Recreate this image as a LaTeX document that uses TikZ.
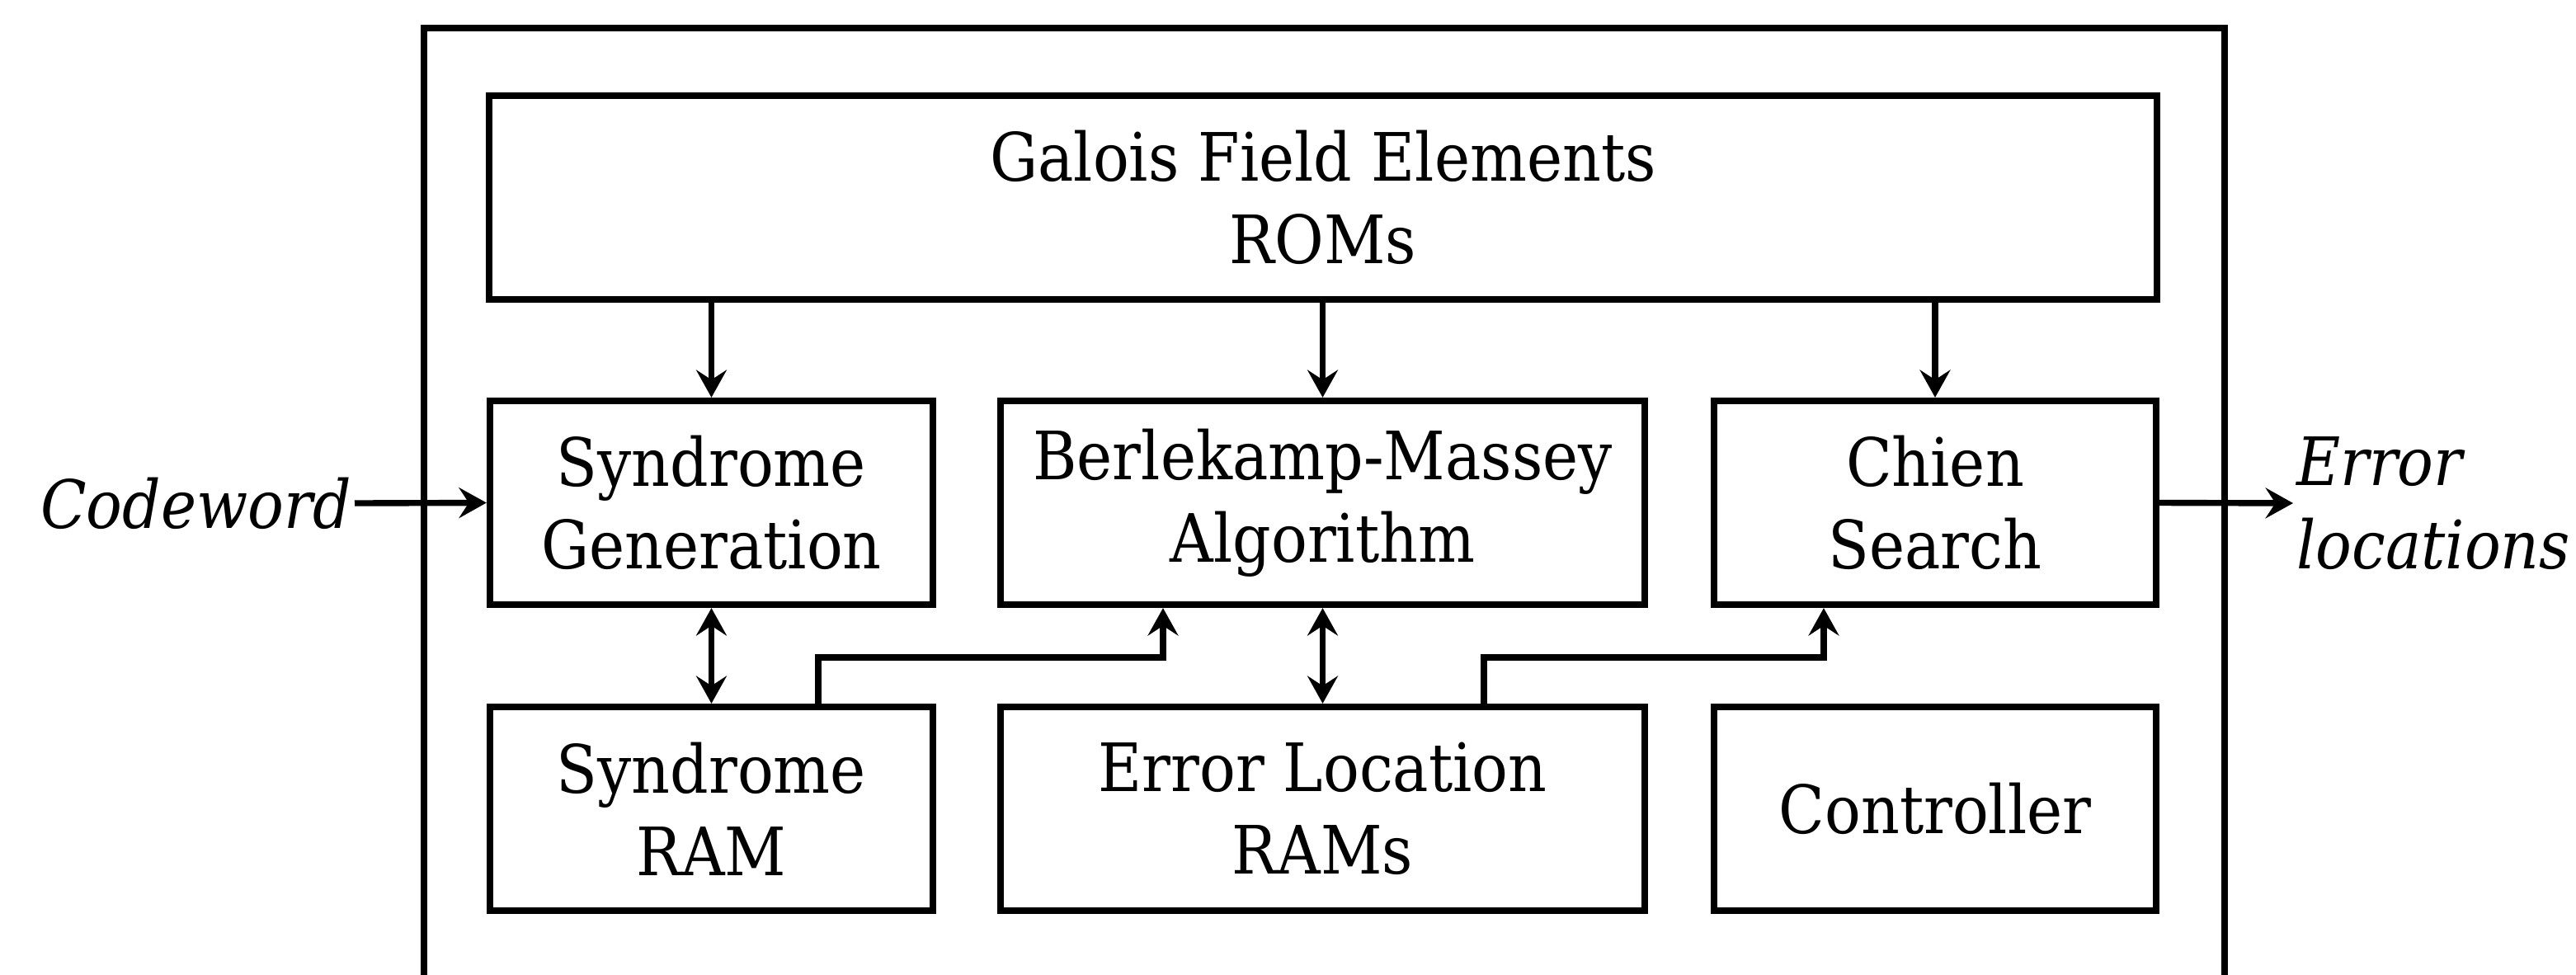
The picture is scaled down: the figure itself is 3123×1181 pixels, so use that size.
\documentclass[tikz,border=0pt]{standalone}
\usepackage{fontspec}
\setmainfont{DejaVu Serif}[FakeStretch=0.9]
\usetikzlibrary{arrows.meta}
\newcommand\blkfont{\fontsize{23}{28.5}\selectfont}
\begin{document}
\begin{tikzpicture}[x=0.01cm,y=-0.01cm,
  blk/.style={draw, line width=2.3pt, inner sep=0pt, align=center, font=\blkfont, minimum height=2.47cm},
  tipa/.tip={Stealth[length=9.5pt,width=10.5pt,inset=3.4pt]},
  arr/.style={line width=2.1pt, -tipa},
  darr/.style={line width=1.9pt, tipa-tipa},
  lbl/.style={inner sep=1pt, font=\blkfont\itshape, align=left}]
\useasboundingbox (0,0) rectangle (3123,1181);
% outer frame
\draw[line width=2.4pt] (514,1200) -- (514,34) -- (2697,34) -- (2697,1200);
% blocks
\node[blk, minimum width=20.2cm] (rom) at (1604,239.5) {Galois Field Elements\\ROMs};
\node[blk, minimum width=5.37cm] (sg) at (862.5,609.5) {Syndrome\\Generation};
\node[blk, minimum width=7.81cm] (bm) at (1603.5,609.5) {Berlekamp-Massey\\Algorithm};
\node[blk, minimum width=5.36cm] (cs) at (2346,609.5) {Chien\\Search};
\node[blk, minimum width=5.37cm] (sram) at (862.5,980.5) {Syndrome\\RAM};
\node[blk, minimum width=7.81cm] (elr) at (1603.5,980.5) {Error Location\\RAMs};
\node[blk, minimum width=5.36cm] (ctl) at (2346,980.5) {Controller};
% labels
\node[lbl, anchor=east] (cw) at (430,610) {Codeword};
\node[lbl, anchor=west] (el) at (2780,610) {Error\\locations};
% turning points
\coordinate (k1) at (992,797);
\coordinate (k2) at (1410,797);
\coordinate (k3) at (1799,797);
\coordinate (k4) at (2211,797);
% connectors
\draw[arr] (rom.south -| sg.north) -- (sg.north);
\draw[arr] (rom.south -| bm.north) -- (bm.north);
\draw[arr] (rom.south -| cs.north) -- (cs.north);
\draw[darr] (sg.south) -- (sram.north);
\draw[darr] (bm.south) -- (elr.north);
\draw[arr] (sram.north -| k1) -- (k1) -| (bm.south -| k2);
\draw[arr] (elr.north -| k3) -- (k3) -| (cs.south -| k4);
\draw[arr] (cw.east) -- (sg.west);
\draw[arr] (cs.east) -- (el.west);
\end{tikzpicture}
\end{document}
